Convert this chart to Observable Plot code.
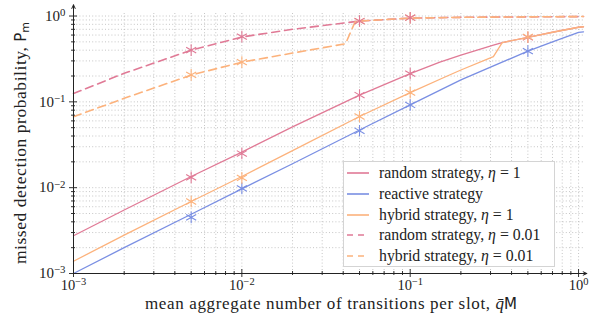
<!DOCTYPE html>
<html><head><meta charset="utf-8">
<script src="https://cdn.jsdelivr.net/npm/d3@7"></script>
<script src="https://cdn.jsdelivr.net/npm/@observablehq/plot@0.6"></script>
<style>
body{margin:0;background:#fff;}
#wrap{position:relative;width:603px;height:325px;}
#legend{position:absolute;left:343px;top:161px;width:212px;height:106px;background:#fff;border:1px solid #d4d4d4;box-sizing:border-box;font-family:'Liberation Serif',serif;font-size:15.8px;color:#222;}
#legend .row{position:absolute;left:3px;height:20px;display:flex;align-items:center;white-space:nowrap;}
#legend svg{margin-right:10px;}
</style></head><body><div id="wrap"></div>
<script>
// ---- data ----
const randomEta1X = [0.001,0.002,0.005,0.01,0.02,0.05,0.1,0.15,0.2,0.312,0.352,0.5,0.7,1.0,1.07];
const randomEta1Y = [0.00275,0.0055,0.0135,0.026,0.051,0.12,0.213,0.29,0.35,0.457,0.49,0.565,0.647,0.74,0.75];
const reactiveX = [0.001,0.002,0.005,0.01,0.02,0.05,0.1,0.2,0.5,0.7,1.0,1.07];
const reactiveY = [0.001,0.002,0.0049,0.0097,0.019,0.047,0.092,0.18,0.39,0.50,0.645,0.655];
const hybridEta1X = [0.001,0.002,0.005,0.01,0.02,0.05,0.1,0.166,0.2,0.312,0.352,0.5,0.7,1.0,1.07];
const hybridEta1Y = [0.00139,0.0028,0.0069,0.0135,0.027,0.0675,0.128,0.20,0.235,0.336,0.49,0.565,0.647,0.74,0.75];
const randomEta001X = [0.001,0.002,0.005,0.01,0.02,0.05,0.1,0.2,0.5,1.0,1.07];
const randomEta001Y = [0.125,0.215,0.40,0.57,0.70,0.874,0.945,0.965,0.978,0.985,0.986];
const hybridEta001X = [0.001,0.002,0.005,0.01,0.02,0.0413,0.047,0.05,0.1,0.2,0.5,1.0,1.07];
const hybridEta001Y = [0.067,0.11,0.205,0.29,0.37,0.476,0.85,0.874,0.945,0.965,0.978,0.985,0.986];

// simulation markers
const mkRandomEta1X = [0.005,0.01,0.05,0.1,0.5];
const mkRandomEta1Y = [0.0132,0.025,0.12,0.213,0.565];
const mkReactiveX = [0.005,0.01,0.05,0.1,0.5];
const mkReactiveY = [0.0045,0.0098,0.046,0.092,0.39];
const mkHybridEta1X = [0.005,0.01,0.05,0.1,0.5];
const mkHybridEta1Y = [0.0069,0.013,0.0675,0.128,0.57];
const mkRandomEta001X = [0.005,0.01,0.05,0.1];
const mkRandomEta001Y = [0.40,0.575,0.874,0.955];
const mkHybridEta001X = [0.005,0.01,0.05,0.1];
const mkHybridEta001Y = [0.206,0.29,0.874,0.955];

const seriesNames = ["random strategy, η = 1","reactive strategy","hybrid strategy, η = 1","random strategy, η = 0.01","hybrid strategy, η = 0.01"];
const seriesColors = ["#e07a96","#7a8fe3","#fcb27c","#e07a96","#fcb27c"];
const seriesDashed = [false,false,false,true,true];

const majorTicks = [0.001,0.01,0.1,1];
const minorTicks = [];
for (const d of [0.001,0.01,0.1]) for (let k=2;k<=9;k++) minorTicks.push(+(d*k).toPrecision(3));

// ---- build tables ----
const zip = (xs, ys) => xs.map((x,i)=>({x, y: ys[i]}));
const lines = [zip(randomEta1X,randomEta1Y), zip(reactiveX,reactiveY), zip(hybridEta1X,hybridEta1Y), zip(randomEta001X,randomEta001Y), zip(hybridEta001X,hybridEta001Y)];
const markers = [zip(mkRandomEta1X,mkRandomEta1Y), zip(mkReactiveX,mkReactiveY), zip(mkHybridEta1X,mkHybridEta1Y), zip(mkRandomEta001X,mkRandomEta001Y), zip(mkHybridEta001X,mkHybridEta001Y)];

const fmt = d => "10^" + Math.round(Math.log10(d));
const gridStyle = {stroke:"#b8b8b8", strokeOpacity:1, strokeWidth:0.8, strokeDasharray:"1,2.2"};
const dom = [0.001, 1.07];
const SERIF = "Liberation Serif";

const marks = [
  Plot.gridX(minorTicks, gridStyle),
  Plot.gridX(majorTicks, gridStyle),
  Plot.gridY(minorTicks, gridStyle),
  Plot.gridY(majorTicks, gridStyle)
];
for (const i of [0,1,2,3,4]) {
  marks.push(Plot.line(lines[i], {x:"x", y:"y", stroke: seriesColors[i], strokeWidth: seriesDashed[i]?1.6:1.3, strokeDasharray: seriesDashed[i]?"8,5":null, curve:"linear"}));
}
for (const i of [0,1,2,4,3]) {
  marks.push(Plot.dot(markers[i], {x:"x", y:"y", symbol:"asterisk", r:5.5, stroke: seriesColors[i], strokeWidth:1.1}));
}
// axes
marks.push(
  Plot.axisX(minorTicks, {tickSize:2, tickFormat:()=>"", label:null, stroke:"#333"}),
  Plot.axisX(minorTicks, {tickSize:-2, tickFormat:()=>"", label:null, stroke:"#333"}),
  Plot.axisX(majorTicks, {tickSize:4, tickPadding:2, tickFormat:fmt, label:null, stroke:"#333", fontSize:14.5}),
  Plot.axisX(majorTicks, {tickSize:-4, tickFormat:()=>"", label:null, stroke:"#333"}),
  Plot.axisY(minorTicks, {tickSize:2, tickFormat:()=>"", label:null, stroke:"#333"}),
  Plot.axisY(minorTicks, {tickSize:-2, tickFormat:()=>"", label:null, stroke:"#333"}),
  Plot.axisY(majorTicks, {tickSize:4, tickPadding:4, tickFormat:fmt, label:null, stroke:"#333", fontSize:15}),
  Plot.axisY(majorTicks, {tickSize:-4, tickFormat:()=>"", label:null, stroke:"#333"}),
  Plot.arrow([0], {x1:()=>dom[0], y1:()=>dom[0], x2:()=>dom[0], y2:()=>1.35, stroke:"#222", strokeWidth:1, headLength:6, headAngle:50}),
  Plot.arrow([0], {x1:()=>dom[0], y1:()=>dom[0], x2:()=>1.12, y2:()=>dom[0], stroke:"#222", strokeWidth:1, headLength:6, headAngle:50})
);

const plot = Plot.plot({
  width:603, height:325,
  marginLeft:73, marginRight:20, marginTop:13, marginBottom:52,
  x:{type:"log", domain:dom, axis:null},
  y:{type:"log", domain:dom, axis:null},
  style:{fontFamily:SERIF, fontSize:"16px", background:"#fff", color:"#222", overflow:"visible"},
  marks
});
document.getElementById("wrap").appendChild(plot);

const svg = d3.select(plot);
svg.selectAll("g").attr("font-family", SERIF);
// superscripts in tick labels
svg.selectAll("text").each(function(){
  const m = /^10\^(-?\d+)$/.exec(this.textContent);
  if (m) {
    const s = d3.select(this);
    s.attr("font-family", SERIF).attr("fill","#222");
    s.text(null);
    s.append("tspan").text("10");
    s.append("tspan").attr("dy","-0.45em").attr("font-size","0.72em").text(m[1].replace("-","\u2212"));
  }
});

// axis titles
const xr = plot.scale("x").range, yr = plot.scale("y").range;
const xt = svg.append("text").attr("x",(xr[0]+xr[1])/2 + 3).attr("y",309).attr("text-anchor","middle")
  .attr("font-family",SERIF).attr("font-size",17).attr("fill","#222");
xt.append("tspan").attr("letter-spacing","0.65px").text("mean aggregate number of transitions per slot, ");
xt.append("tspan").attr("font-style","italic").attr("letter-spacing","0").text("q\u0304");
xt.append("tspan").attr("font-family","DejaVu Sans").attr("font-size",15).attr("letter-spacing","0").text("M");
const yt = svg.append("text").attr("transform",`translate(26,${(yr[0]+yr[1])/2}) rotate(-90)`).attr("text-anchor","middle")
  .attr("font-family",SERIF).attr("font-size",17.5).attr("fill","#222");
yt.append("tspan").attr("letter-spacing","0.55px").text("missed detection probability, ");
yt.append("tspan").attr("font-family","DejaVu Sans").attr("font-size",15).text("P");
yt.append("tspan").attr("font-family","DejaVu Sans").attr("font-size",11).attr("dy","0.3em").text("m");

// legend (overlay)
const leg = document.createElement("div");
leg.id = "legend";
seriesNames.forEach((name,i)=>{
  const row = document.createElement("div");
  row.className = "row";
  row.style.top = (1 + i*20.8) + "px";
  row.innerHTML = `<svg width="22" height="4"><line x1="0" y1="2" x2="22" y2="2" stroke="${seriesColors[i]}" stroke-width="1.6" ${seriesDashed[i]?'stroke-dasharray="6,5"':''}/></svg><span></span>`;
  const span = row.querySelector("span");
  const parts = name.split("η");
  span.appendChild(document.createTextNode(parts[0]));
  if (parts.length>1){ const e=document.createElement("i"); e.textContent="η"; span.appendChild(e); span.appendChild(document.createTextNode(parts[1])); }
  leg.appendChild(row);
});
document.getElementById("wrap").appendChild(leg);
</script></body></html>
